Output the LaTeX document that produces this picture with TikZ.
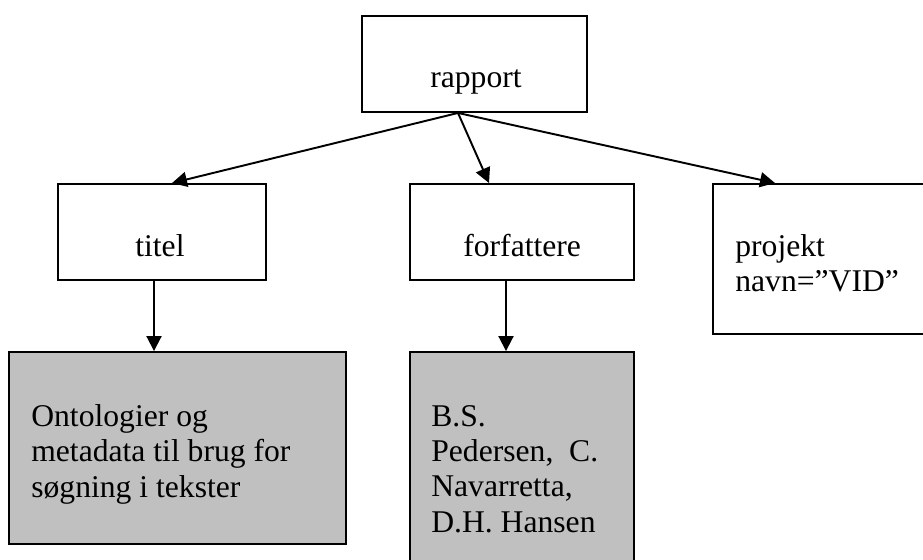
\documentclass[tikz,border=0pt]{standalone}
\usepackage{fontspec}
\setmainfont{Liberation Serif}
\usetikzlibrary{positioning,calc,arrows.meta}
\definecolor{boxgrey}{RGB}{192,192,192}

\begin{document}
\begin{tikzpicture}[x=0.02cm,y=-0.02cm,
    box/.style={draw,rectangle,line width=1.1pt,inner sep=0pt},
    greybox/.style={box,fill=boxgrey},
    txt/.style={inner sep=0pt,font=\fontsize{18}{20}\selectfont,align=left},
    arr/.style={-{Triangle[length=0.3cm,width=0.3cm]},line width=1.1pt}]
    \useasboundingbox (0,0) rectangle (923,560);
    \clip (0,0) rectangle (923,560);

    % boxes
    \node[box,minimum width=4.5cm,minimum height=1.92cm] (rapport) at (474.5,64) {};
    \node[box,minimum width=4.16cm,minimum height=1.92cm] (titel) at (162,232) {};
    \node[box,minimum width=4.48cm,minimum height=1.92cm] (forfattere) at (522,232) {};
    \node[box,minimum width=4.44cm,minimum height=3cm] (projekt) at (824,259) {};
    \node[greybox,minimum width=6.74cm,minimum height=3.84cm] (ontologier) at (177.5,448) {};
    \node[greybox,minimum width=4.48cm,minimum height=4.46cm] (navne) at (522,463.5) {};

    % texts (base = last line)
    \node[txt,anchor=base] (rapporttxt) at (476,88) {rapport};
    \node[txt,anchor=base west] (titeltxt) at (135,257) {titel};
    \node[txt,anchor=base west] (forfattertxt) at (463,257) {forfattere};
    \node[txt,anchor=base west] (projekttxt) at (735,292) {projekt\\navn=”VID”};
    \node[txt,anchor=base west] (ontologitxt) at (31,497) {Ontologier og\\metadata til brug for\\søgning i tekster};
    \node[txt,anchor=base west] (navnetxt) at (431,532) {B.S.\\Pedersen,\ \ C.\\Navarretta,\\D.H. Hansen};

    % arrows
    \coordinate (fork) at ([xshift=-0.33cm]rapport.south);
    \draw[arr] (fork) -- ([xshift=0.2cm]titel.north);
    \draw[arr] (fork) -- ([xshift=-0.66cm]forfattere.north);
    \draw[arr] (fork) -- ([xshift=-0.98cm]projekt.north);
    \draw[arr] ([xshift=-0.16cm]titel.south) -- ([xshift=-0.16cm]titel.south |- ontologier.north);
    \draw[arr] ([xshift=-0.32cm]forfattere.south) -- ([xshift=-0.32cm]forfattere.south |- navne.north);
\end{tikzpicture}
\end{document}
